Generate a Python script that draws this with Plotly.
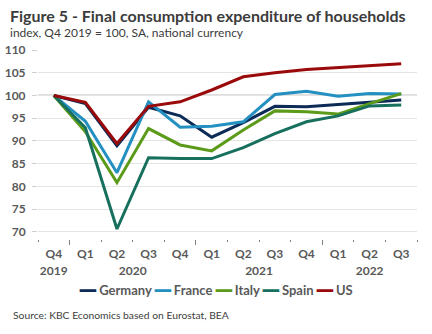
import plotly.graph_objects as go

quarters = ["Q4", "Q1", "Q2", "Q3", "Q4", "Q1", "Q2", "Q3", "Q4", "Q1", "Q2", "Q3"]
years = ["2019", "2020", "2020", "2020", "2020", "2021", "2021", "2021", "2021", "2022", "2022", "2022"]

germany = [100, 98.2, 88.9, 97.4, 95.5, 90.8, 94.0, 97.6, 97.5, 98.0, 98.4, 99.0]
france = [100, 94.3, 83.0, 98.6, 93.0, 93.2, 94.2, 100.2, 100.9, 99.8, 100.4, 100.3]
italy = [100, 92.0, 80.8, 92.7, 89.1, 87.8, 92.4, 96.6, 96.4, 95.9, 98.2, 100.4]
spain = [100, 92.9, 70.6, 86.3, 86.1, 86.1, 88.5, 91.6, 94.2, 95.5, 97.7, 97.9]
us = [100, 98.5, 89.4, 97.6, 98.6, 101.2, 104.1, 105.0, 105.7, 106.1, 106.6, 107.0]

series_names = ["Germany", "France", "Italy", "Spain", "US"]
series_values = [germany, france, italy, spain, us]
colors = ["#0c2b57", "#2390c1", "#5c9b1a", "#17705e", "#9b0a0a"]

base_value = 100
title_text = "Figure 5 - Final consumption expenditure of households"
subtitle_text = "index, Q4 2019 = 100, SA, national currency"
source_text = "Source: KBC Economics based on Eurostat, BEA"

FONT = "Lato"
GRAY = "#595959"

n = len(quarters)
idx = list(range(n))

# year groups: centers and boundaries derived from the year labels
groups = []
for i, y in enumerate(years):
    if not groups or groups[-1][0] != y:
        groups.append([y, i, i])
    else:
        groups[-1][2] = i
year_labels = [g[0] for g in groups]
year_centers = [(g[1] + g[2]) / 2 for g in groups]
year_bounds = [g[2] + 0.5 for g in groups[:-1]]
quarter_bounds = [i - 0.5 for i in range(n + 1)]

fig = go.Figure()
for name, vals, col in zip(series_names, series_values, colors):
    fig.add_trace(go.Scatter(
        x=idx, y=vals, mode="lines", name=name,
        line=dict(color=col, width=3), showlegend=False,
    ))

fig.add_trace(go.Scatter(x=[idx[0], idx[-1]], y=[None, None], xaxis="x2", showlegend=False,
                         hoverinfo="skip", mode="lines"))

fig.add_hline(y=base_value, line=dict(color="#7f7f7f", width=1.2), layer="below")

legend_parts = []
for name, col in zip(series_names, colors):
    legend_parts.append(f'<span style="color:{col}">━━</span> {name}')
legend_text = "<b>" + " ".join(legend_parts) + "</b>"

plot_l, plot_r, plot_t, plot_b = 38.3, 14.7, 49.8, 95
pw = 432 - plot_l - plot_r
ph = 334 - plot_t - plot_b

def px_x(px):
    return (px - plot_l) / pw

def px_y(py):
    return 1 - (py - plot_t) / ph

xrange = [-0.5, n - 0.5]

fig.update_layout(
    width=432, height=334,
    margin=dict(l=plot_l, r=plot_r, t=plot_t, b=plot_b, pad=0, autoexpand=False),
    paper_bgcolor="white", plot_bgcolor="white",
    font=dict(family=FONT, color=GRAY),
    xaxis=dict(
        range=xrange, tickmode="array", tickvals=idx, ticktext=quarters,
        showgrid=False, showline=False, zeroline=False, ticks="",
        ticklabelstandoff=6, automargin=False,
        minor=dict(tickmode="array", tickvals=quarter_bounds, ticks="outside",
                   ticklen=2, tickcolor="#7f7f7f", tickwidth=1, showgrid=False),
        tickfont=dict(family=FONT, size=12, color=GRAY, weight="bold"),
    ),
    xaxis2=dict(
        overlaying="x", range=xrange, side="bottom",
        tickmode="array", tickvals=year_centers, ticktext=year_labels,
        ticks="", ticklabelstandoff=23, automargin=False,
        minor=dict(tickmode="array", tickvals=year_bounds, ticks="outside",
                   ticklen=5, tickcolor="#7f7f7f", tickwidth=1, showgrid=False),
        showgrid=False, showline=False, zeroline=False,
        tickfont=dict(family=FONT, size=12, color=GRAY, weight="bold"),
    ),
    yaxis=dict(
        range=[68.4, 110], dtick=5, tick0=70,
        showgrid=True, gridcolor="#e4e4e4", gridwidth=1,
        zeroline=False, showline=False,
        ticks="outside", ticklen=5, tickcolor="#d0d0d0",
        ticklabelstandoff=4, automargin=False,
        tickfont=dict(family=FONT, size=12, color=GRAY, weight="bold"),
    ),
    annotations=[
        dict(text=f"<b>{title_text}</b>", xref="paper", yref="paper",
             x=px_x(8), y=px_y(15.5), xanchor="left", yanchor="middle",
             showarrow=False, font=dict(family=FONT, size=16, color="#3c3c3c")),
        dict(text=subtitle_text, xref="paper", yref="paper",
             x=px_x(8), y=px_y(32), xanchor="left", yanchor="middle",
             showarrow=False, font=dict(family=FONT, size=12, color="#3c3c3c")),
        dict(text=legend_text, xref="paper", yref="paper",
             x=px_x(216), y=px_y(290), xanchor="center", yanchor="middle",
             showarrow=False, font=dict(family=FONT, size=13, color=GRAY)),
        dict(text=source_text, xref="paper", yref="paper",
             x=px_x(11), y=px_y(315), xanchor="left", yanchor="middle",
             showarrow=False, font=dict(family=FONT, size=10.3, color="#404040")),
    ],
)

fig.write_html("out.html")
